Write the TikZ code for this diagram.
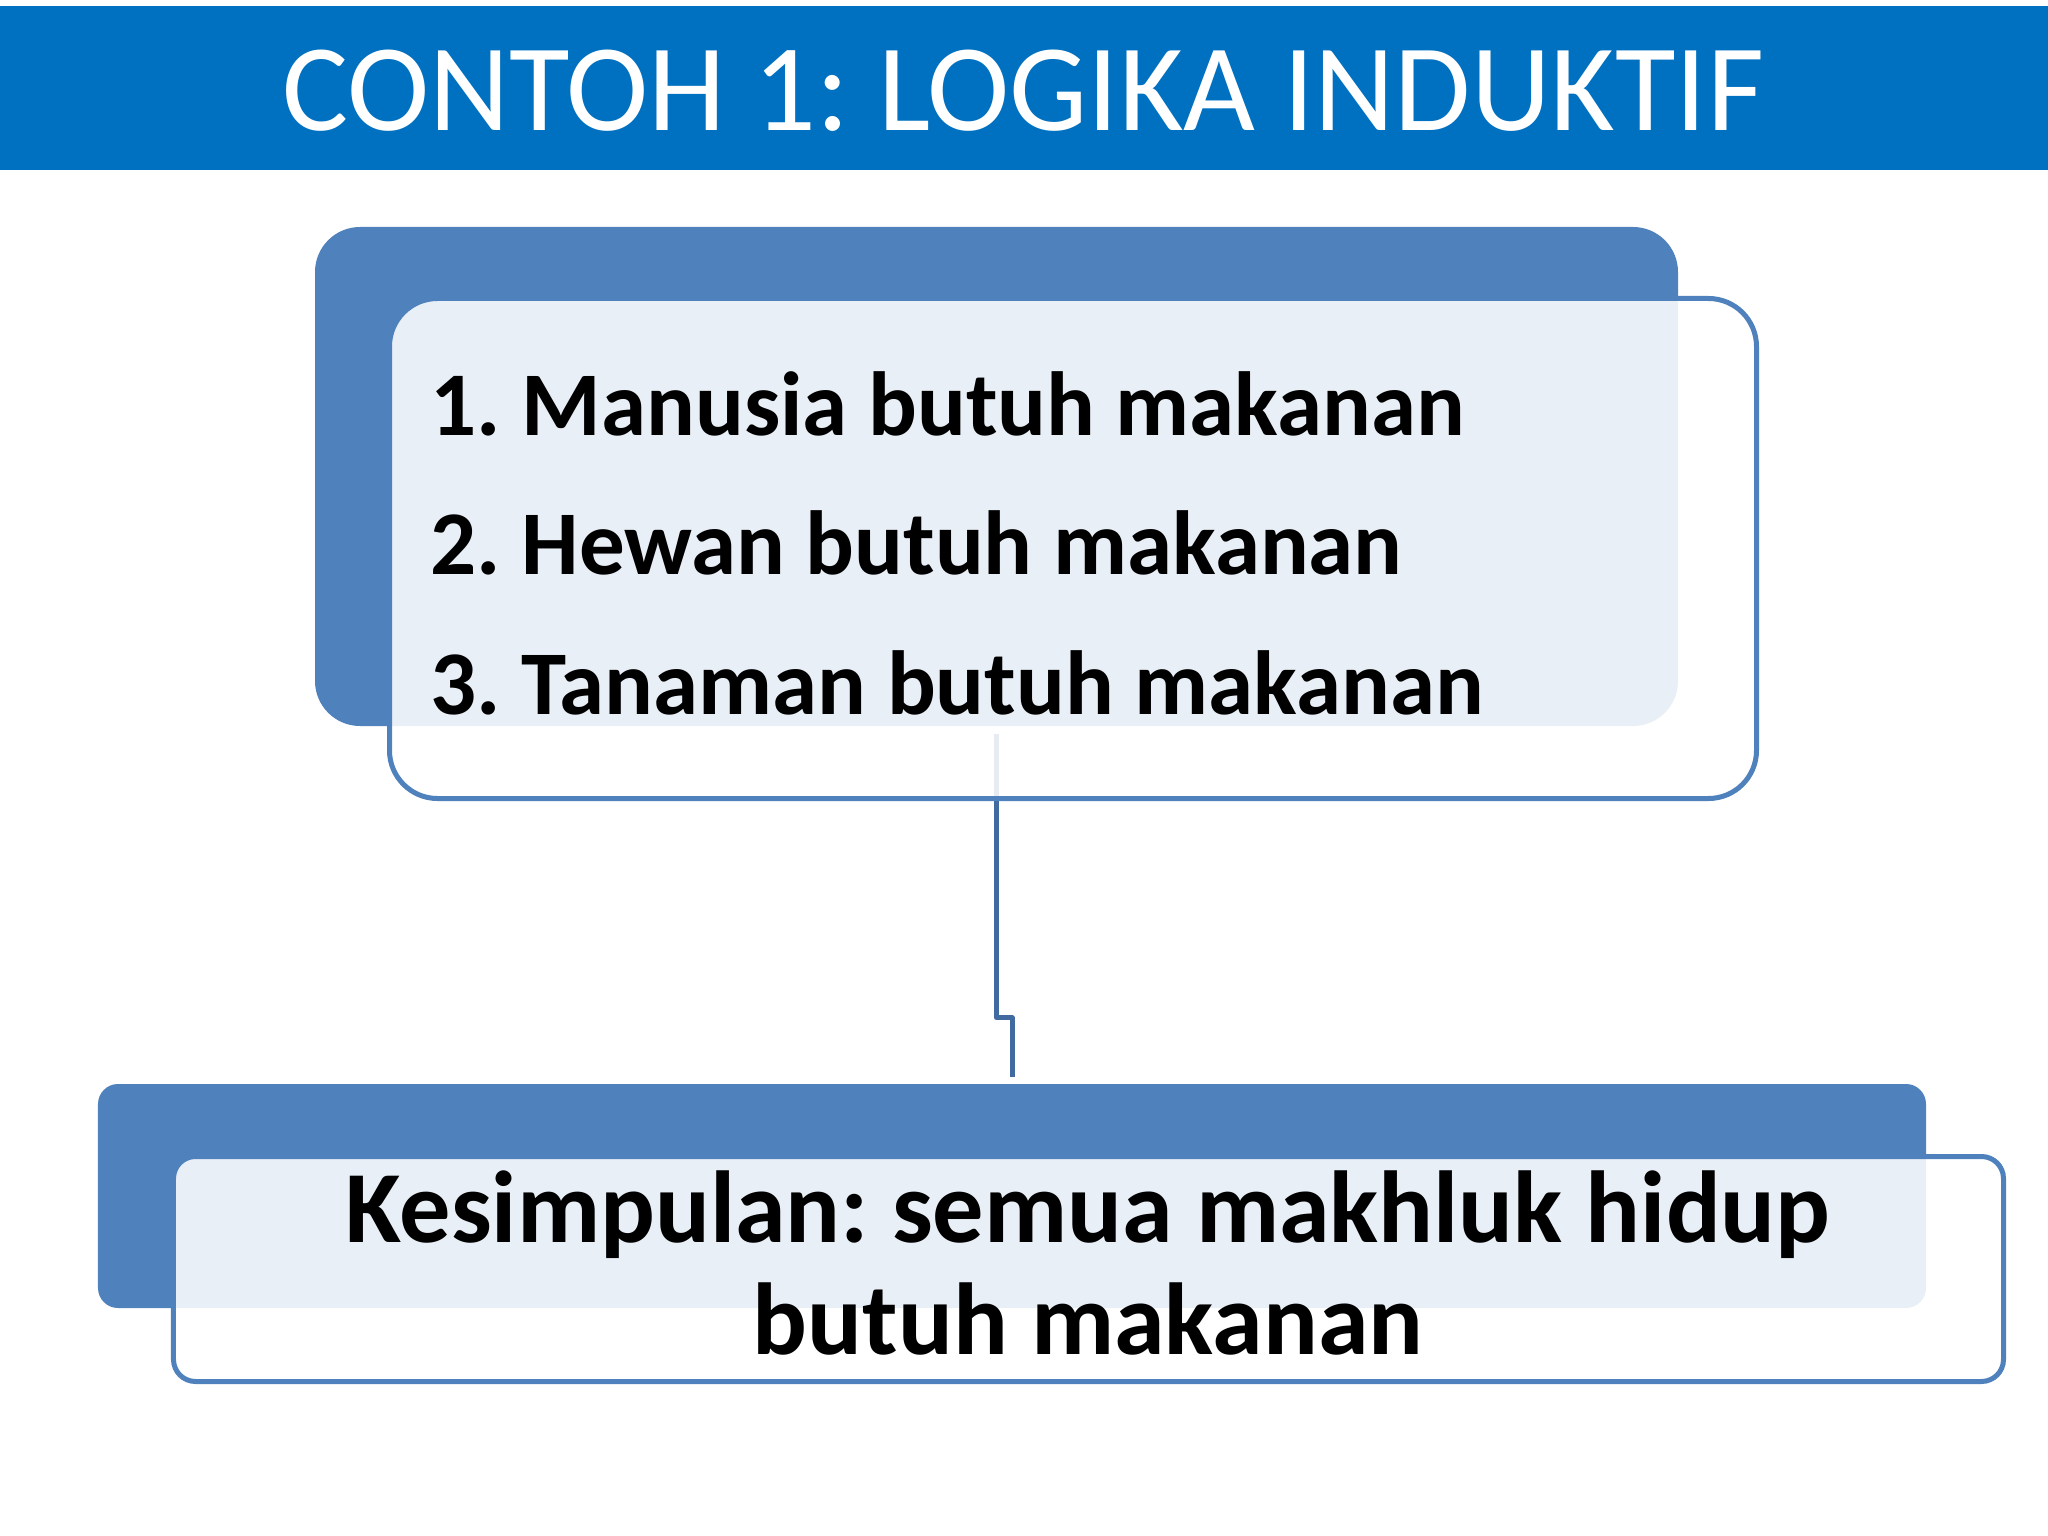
\documentclass[tikz,border=0pt]{standalone}
\usepackage{fontspec}
\setmainfont{Carlito}
\definecolor{titleblue}{RGB}{0,112,192}
\definecolor{accent}{RGB}{79,129,189}
\definecolor{connblue}{RGB}{65,106,160}
\frenchspacing
\begin{document}
\begin{tikzpicture}[
  titlebar/.style={rectangle, fill=titleblue, inner sep=0pt, minimum width=20.48cm, minimum height=1.64cm},
  titletext/.style={inner sep=0pt, text=white, font=\fontsize{35.3}{40}\selectfont},
  darkbox/.style={rectangle, fill=accent, inner sep=0pt},
  outbox/.style={rectangle, draw=accent, line width=0.05cm, fill=white, fill opacity=0.88, draw opacity=1, inner sep=0pt},
  item/.style={inner sep=0pt, text=black, font=\bfseries\fontsize{25.9}{30}\selectfont},
  concl/.style={inner sep=0pt, text=black, font=\bfseries\fontsize{29.1}{34}\selectfont},
  conn/.style={draw=connblue, line width=0.05cm, line join=round}
]
\useasboundingbox (0,0) rectangle (20.48,-15.36);
\fill[white] (0,0) rectangle (20.48,-15.36);

% title
\node[titlebar] (bar) at (10.24,-0.88) {};
\node[titletext, anchor=base] (title) at (10.23,-1.31) {CONTOH 1: LOGIKA INDUKTIF};

% upper group
\node[darkbox, rounded corners=0.45cm, minimum width=13.63cm, minimum height=4.99cm] (d1) at (9.965,-4.765) {};
\coordinate (cs) at ([yshift=-0.07cm]d1.south);

% lower group dark box
\node[darkbox, rounded corners=0.2cm, minimum width=18.28cm, minimum height=2.24cm] (d2) at (10.12,-11.96) {};
\coordinate (ce) at ([yshift=0.06cm]d2.north);

% connector (under the translucent box)
\draw[conn] (cs) -- ++(0,-2.84) -| (ce);

\node[outbox, rounded corners=0.48cm, minimum width=13.67cm, minimum height=5.00cm] (o1) at (10.73,-5.485) {};
\node[outbox, rounded corners=0.22cm, minimum width=18.30cm, minimum height=2.25cm] (o2) at (10.885,-12.69) {};

% texts
\node[item, anchor=base west] (t1) at (4.30,-4.36) {1. Manusia butuh makanan};
\node[item, anchor=base west] (t2) at (4.30,-5.74) {2. Hewan butuh makanan};
\node[item, anchor=base west] (t3) at (4.30,-7.15) {3. Tanaman butuh makanan};

\node[concl, anchor=base] (k1) at (10.88,-12.42) {Kesimpulan: semua makhluk hidup};
\node[concl, anchor=base] (k2) at (10.88,-13.54) {butuh makanan};
\end{tikzpicture}
\end{document}
